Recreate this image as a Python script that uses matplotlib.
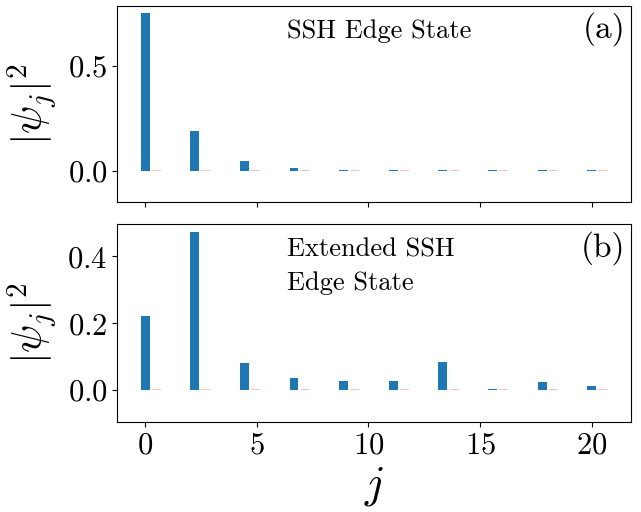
import matplotlib
matplotlib.use("Agg")
from matplotlib import pyplot as plt
import numpy as np

## Data
# site positions (10 unit cells spread over 0..20) and sublattice weights
sites = np.linspace(0, 20, 10)
ssh_a = [0.752, 0.188, 0.045, 0.011, 0.004, 0.004, 0.004, 0.004, 0.004, 0.004]
ssh_b = [0.004, 0.004, 0.004, 0.004, 0.004, 0.004, 0.004, 0.004, 0.004, 0.004]
ext_a = [0.223, 0.474, 0.080, 0.037, 0.028, 0.028, 0.083, 0.004, 0.025, 0.013]
ext_b = [0.003, 0.003, 0.003, 0.003, 0.003, 0.003, 0.003, 0.003, 0.003, 0.003]

plt.rcParams["font.family"] = "serif"
plt.rcParams["font.serif"] = ["cmr10"]
plt.rcParams["mathtext.fontset"] = "cm"
plt.rcParams["axes.formatter.use_mathtext"] = True


def draw_panel(ax, a_vals, b_vals, label, tag):
    ax.bar(sites, a_vals, width=0.4, color="tab:blue")
    ax.bar(sites + 0.5, b_vals, width=0.4, color="#f5c4c4")
    top = max(a_vals)
    ax.set_ylim(-0.2 * top, 1.05 * top)
    ax.set_ylabel(r"$|\psi_j|^2$", fontsize=30, labelpad=6)
    ax.tick_params(labelsize=22)
    ax.text(0.33, 0.93, label, transform=ax.transAxes, fontsize=19,
            ha="left", va="top", linespacing=1.55)
    ax.text(0.99, 0.965, tag, transform=ax.transAxes, fontsize=24,
            ha="right", va="top")


fig = plt.figure(figsize=(6.41, 5.12), dpi=100)
ax1 = fig.add_axes([0.183, 0.605, 0.801, 0.384])
ax2 = fig.add_axes([0.183, 0.176, 0.801, 0.387], sharex=ax1)

draw_panel(ax1, ssh_a, ssh_b, "SSH Edge State", "(a)")
draw_panel(ax2, ext_a, ext_b, "Extended SSH\nEdge State", "(b)")

ax1.set_yticks([0.0, 0.5])
ax2.set_yticks([0.0, 0.2, 0.4])
ax1.tick_params(labelbottom=False)
ax2.set_xticks([0, 5, 10, 15, 20])
ax2.set_xlabel(r"$j$", fontsize=32)
fig.align_ylabels([ax1, ax2])

fig.savefig("out.png", dpi=100)
